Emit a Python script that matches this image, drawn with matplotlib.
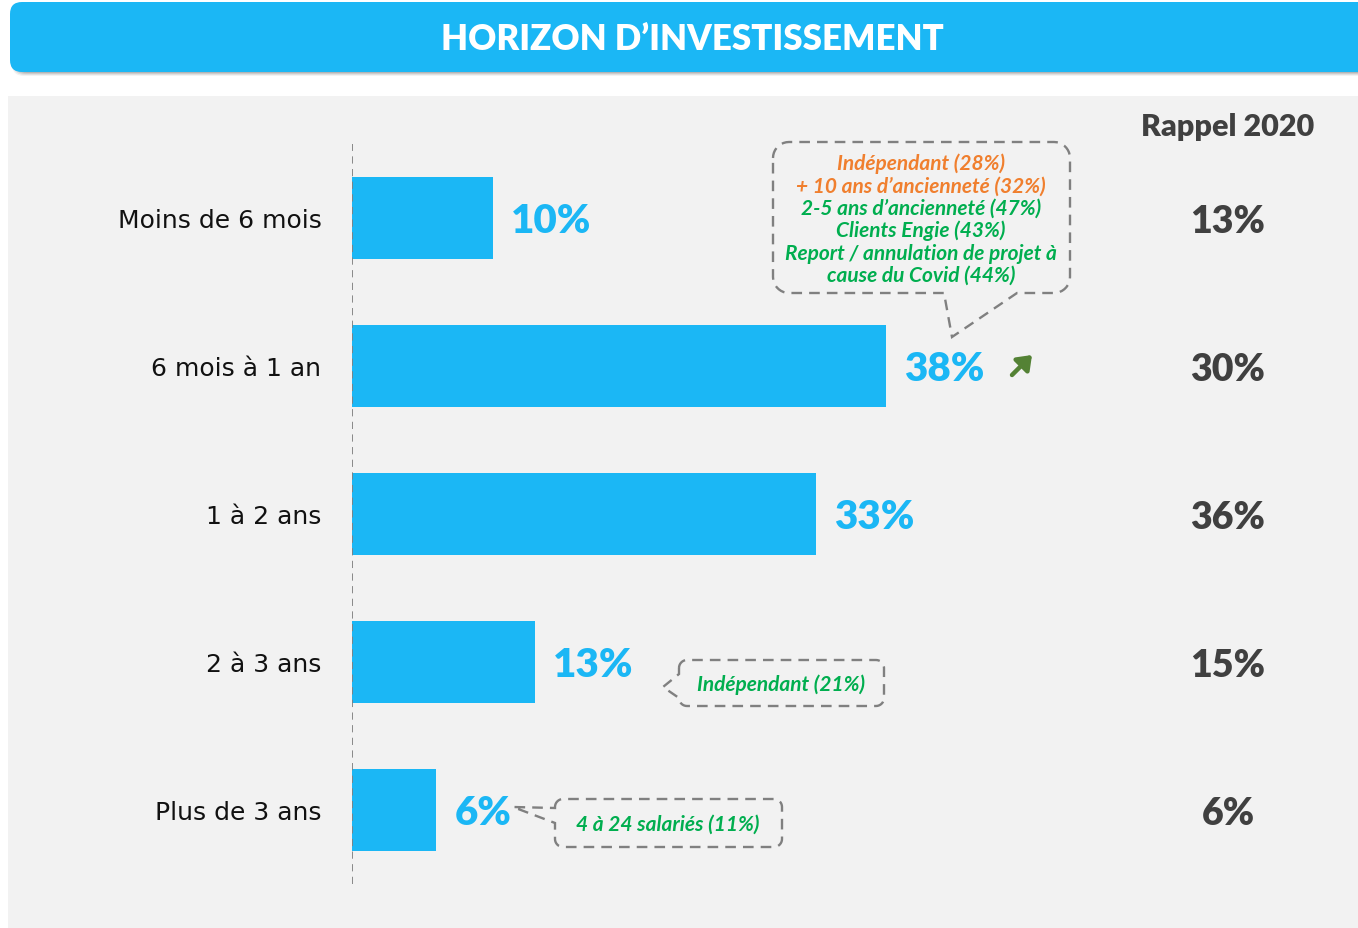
import numpy as np
import matplotlib
matplotlib.use("Agg")
import matplotlib.pyplot as plt
import matplotlib.transforms as mtransforms
from matplotlib.patches import FancyBboxPatch, PathPatch, Rectangle
from matplotlib.path import Path

# ===============================
# DONNEES
# ===============================
categories = ["Moins de 6 mois", "6 mois à 1 an", "1 à 2 ans", "2 à 3 ans", "Plus de 3 ans"]
values_2021 = [10, 38, 33, 13, 6]
rappel_2020 = [13, 30, 36, 15, 6]

callout_big_lines = ["Indépendant (28%)", "+ 10 ans d\u2019ancienneté (32%)",
                     "2-5 ans d\u2019ancienneté (47%)", "Clients Engie (43%)",
                     "Report / annulation de projet à", "cause du Covid (44%)"]
callout_big_colors = ["#F07F2E", "#F07F2E", "#00AE4F", "#00AE4F", "#00AE4F", "#00AE4F"]
callout_2a3 = "Indépendant (21%)"
callout_plus3 = "4 à 24 salariés (11%)"

BLUE = "#1BB7F5"
GREEN = "#00AE4F"
GREY_DASH = "#808080"
DARK = "#404040"

W, H = 1358, 929
fig = plt.figure(figsize=(W / 100, H / 100), dpi=100)
fig.patch.set_facecolor("white")

# transformation en pixels (origine en haut a gauche)
px = mtransforms.Affine2D().scale(1 / W, -1 / H).translate(0, 1) + fig.transFigure


def rounded_callout(x0, y0, x1, y1, r, side, a, b, tip, n=10):
    def arc(cx, cy, t0, t1):
        t = np.linspace(t0, t1, n)
        return list(zip(cx + r * np.cos(t), cy + r * np.sin(t)))
    pts = []
    pts += arc(x0 + r, y0 + r, np.pi, 1.5 * np.pi)
    pts += arc(x1 - r, y0 + r, 1.5 * np.pi, 2 * np.pi)
    pts += arc(x1 - r, y1 - r, 0, 0.5 * np.pi)
    if side == "bottom":
        pts += [(b, y1), tip, (a, y1)]
    pts += arc(x0 + r, y1 - r, 0.5 * np.pi, np.pi)
    if side == "left":
        pts += [(x0, b), tip, (x0, a)]
    pts.append(pts[0])
    return Path(pts)


# ===============================
# FOND ET TITRE
# ===============================
fig.patches.append(Rectangle((8, 97), 1360, 840, transform=px,
                             facecolor="#F2F2F2", edgecolor="none", zorder=0))

for k, al in enumerate([0.05, 0.07, 0.09, 0.11]):
    fig.patches.append(FancyBboxPatch((12 + k, 9 + k), 1360, 68 - 2 * k,
                                      boxstyle="round,pad=0,rounding_size=12",
                                      transform=px, facecolor="black", alpha=al,
                                      edgecolor="none", zorder=1))
fig.patches.append(FancyBboxPatch((10, 3), 1360, 70,
                                  boxstyle="round,pad=0,rounding_size=12",
                                  transform=px, facecolor=BLUE,
                                  edgecolor="none", zorder=2))
fig.text(692, 39, "HORIZON D\u2019INVESTISSEMENT", transform=px, ha="center",
         va="center", color="white", fontsize=25, fontweight="heavy",
         family="Lato", zorder=3)

# ===============================
# BARRES
# ===============================
ax = fig.add_axes([352 / W, (H - 885) / H, 1000 / W, 740 / H])
ax.set_zorder(3)
ax.set_facecolor("none")
y = np.arange(len(categories))
ax.barh(y, values_2021, height=0.55, color=BLUE, zorder=2)
ax.set_xlim(0, 1000 / 14.05)
ax.set_ylim(len(categories) - 0.5, -0.5)
ax.axvline(0, color=GREY_DASH, lw=1.3, ls=(0, (4, 3)), zorder=3)
for s in ax.spines.values():
    s.set_visible(False)
ax.set_xticks([])
ax.set_yticks(y, categories)
ax.tick_params(axis="y", length=0, pad=22, labelsize=18, labelcolor="#111111")
for lab in ax.get_yticklabels():
    lab.set_family("DejaVu Sans")

for i, v in enumerate(values_2021):
    ax.text(v + 1.3, i + 0.02, f"{v}%", ha="left", va="center", color=BLUE,
            fontsize=29, fontweight="heavy", family="Lato")

for i, v in enumerate(rappel_2020):
    ax.text(62.35, i + 0.02, f"{v}%", ha="center", va="center", color=DARK,
            fontsize=27, fontweight="heavy", family="Lato", clip_on=False)
fig.text(1228, 127, "Rappel 2020", transform=px, ha="center", va="center",
         color=DARK, fontsize=22, fontweight="heavy", family="Lato")

# fleche de hausse
ax.annotate("", xy=(1032, 356), xytext=(1012, 376), xycoords=px, textcoords=px,
            arrowprops=dict(arrowstyle="-|>,head_length=0.8,head_width=0.6",
                            color="#548235", lw=3.2, shrinkA=0, shrinkB=0))

# ===============================
# BULLES
# ===============================
dash = dict(facecolor="none", edgecolor=GREY_DASH, lw=1.7, ls=(0, (4.5, 3)),
            transform=px, zorder=4)
fig.patches.append(PathPatch(rounded_callout(773, 143, 1070, 294, 16, "bottom",
                                             944, 1017, (952, 338)), **dash))
for k, (line, col) in enumerate(zip(callout_big_lines, callout_big_colors)):
    fig.text(921, 164 + k * 22.4, line, transform=px, ha="center", va="center",
             color=col, fontsize=15, fontweight="bold", style="italic",
             family="Lato")

fig.patches.append(PathPatch(rounded_callout(679, 661, 884, 707, 8, "left",
                                             675, 699, (663, 688)), **dash))
fig.text(781, 685, callout_2a3, transform=px, ha="center", va="center",
         color=GREEN, fontsize=15, fontweight="bold", style="italic", family="Lato")

fig.patches.append(PathPatch(rounded_callout(555, 800, 782, 848, 8, "left",
                                             809, 824, (513, 808)), **dash))
fig.text(668, 825, callout_plus3, transform=px, ha="center", va="center",
         color=GREEN, fontsize=15, fontweight="bold", style="italic", family="Lato")

fig.savefig("out.png", dpi=100, facecolor="white")
